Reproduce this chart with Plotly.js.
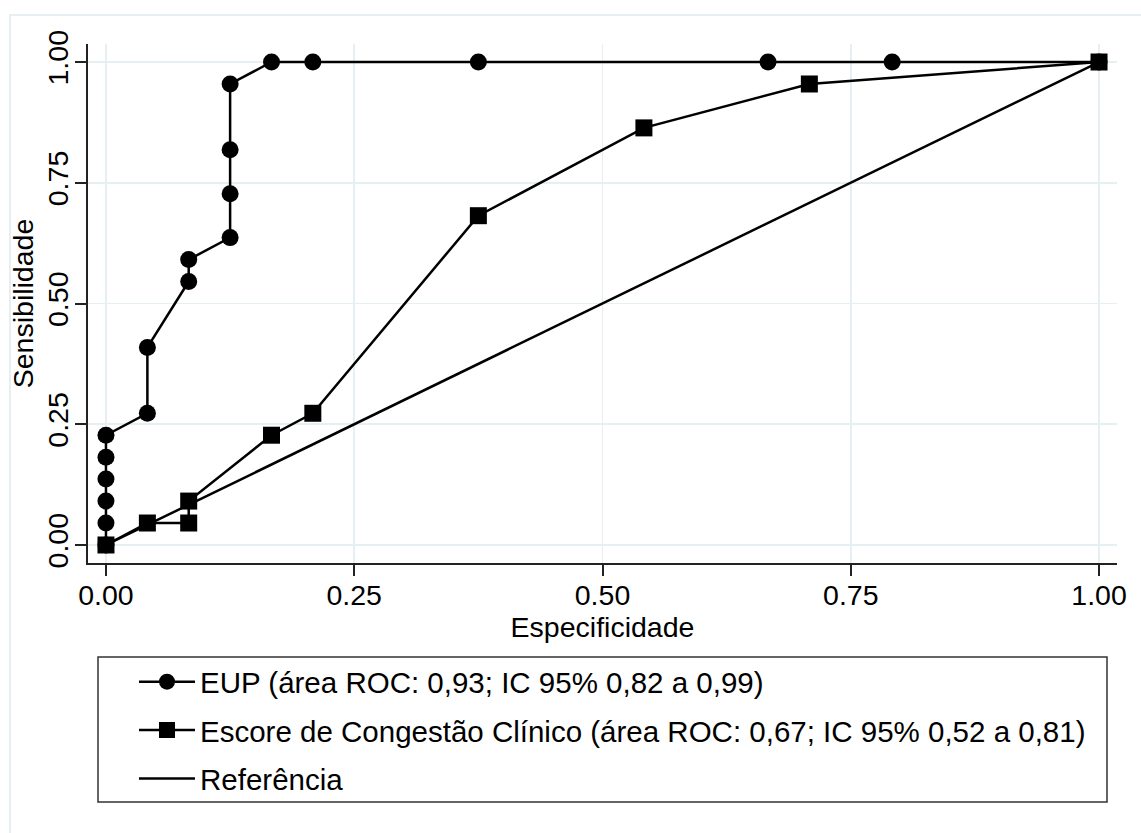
<!DOCTYPE html>
<html>
<head>
<meta charset="utf-8">
<script src="https://cdn.plot.ly/plotly-3.0.1.min.js"></script>
<style>html,body{margin:0;padding:0;background:#fff;}#chart{width:1141px;height:833px;}</style>
</head>
<body>
<div id="chart"></div>
<script>
// ROC curve data (x = 1 - especificidade, y = sensibilidade)
const eupX = [0, 0, 0, 0, 0, 0, 0.0417, 0.0417, 0.0833, 0.0833, 0.125, 0.125, 0.125, 0.125, 0.1667, 0.2083, 0.375, 0.6667, 0.7917, 1];
const eupY = [0, 0.0455, 0.0909, 0.1364, 0.1818, 0.2273, 0.2727, 0.4091, 0.5455, 0.5909, 0.6364, 0.7273, 0.8182, 0.9545, 1, 1, 1, 1, 1, 1];
const scoreX = [0, 0.0417, 0.0833, 0.0833, 0.1667, 0.2083, 0.375, 0.5417, 0.7083, 1];
const scoreY = [0, 0.0455, 0.0455, 0.0909, 0.2273, 0.2727, 0.6818, 0.8636, 0.9545, 1];
const refX = [0, 1];
const refY = [0, 1];
const tickVals = [0, 0.25, 0.5, 0.75, 1];
const tickText = ['0.00', '0.25', '0.50', '0.75', '1.00'];
const names = [
  'EUP (área ROC: 0,93; IC 95% 0,82 a 0,99)',
  'Escore de Congestão Clínico (área ROC: 0,67; IC 95% 0,52 a 0,81)',
  'Referência'
];

const FONT = 'Liberation Sans, Arial, Helvetica, sans-serif';
const W = 1141, H = 833;
const L = 88, R = 24, T = 44, B = 270;
const pw = W - L - R, ph = H - T - B;
const px = v => (v - L) / pw;
const py = v => (H - B - v) / ph;

const traces = [
  {x: eupX, y: eupY, name: names[0], legendgroup: 'a', mode: 'lines+markers', type: 'scatter',
   line: {color: '#000', width: 2.5}, marker: {symbol: 'circle', size: 17, color: '#000'}, cliponaxis: false},
  {x: scoreX, y: scoreY, name: names[1], legendgroup: 'b', mode: 'lines+markers', type: 'scatter',
   line: {color: '#000', width: 2.5}, marker: {symbol: 'square', size: 17, color: '#000'}, cliponaxis: false},
  {x: refX, y: refY, name: names[2], legendgroup: 'c', mode: 'lines', type: 'scatter',
   line: {color: '#000', width: 2.5}}
];

const axisCommon = {
  tickvals: tickVals, ticktext: tickText, ticks: 'outside', ticklen: 11, tickwidth: 2,
  tickcolor: '#222', showline: true, linecolor: '#222', linewidth: 2,
  showgrid: true, gridcolor: '#e6eff2', gridwidth: 1.5, zeroline: false,
  tickfont: {family: FONT, size: 28.5, color: '#000'}, automargin: false, fixedrange: true
};

const layout = {
  width: W, height: H,
  margin: {l: L, r: R, t: T, b: B, pad: 0},
  paper_bgcolor: '#fff', plot_bgcolor: '#fff',
  showlegend: true,
  xaxis: Object.assign({}, axisCommon, {
    range: [-0.0181, 1.0181], ticklabelstandoff: -5,
    title: {text: 'Especificidade', font: {family: FONT, size: 28.5, color: '#000'}, standoff: 0}
  }),
  yaxis: Object.assign({}, axisCommon, {
    range: [-0.0373, 1.0373], tickangle: -90, ticklabelstandoff: -4,
    title: {text: 'Sensibilidade', font: {family: FONT, size: 28.5, color: '#000'}, standoff: 0}
  }),
  legend: {
    x: px(134), y: py(656), xanchor: 'left', yanchor: 'top',
    traceorder: 'grouped', tracegroupgap: 7, itemwidth: 56,
    font: {family: FONT, size: 29.5, color: '#000'},
    bgcolor: 'rgba(0,0,0,0)', borderwidth: 0, itemclick: false, itemdoubleclick: false
  },
  shapes: [
    {type: 'rect', xref: 'paper', yref: 'paper', x0: px(10), x1: px(1160), y0: py(15), y1: py(860),
     line: {color: '#e6eff2', width: 2}, layer: 'below'},
    {type: 'rect', xref: 'paper', yref: 'paper', x0: px(98), x1: px(1107), y0: py(657), y1: py(802),
     line: {color: '#333', width: 1.5}}
  ]
};

Plotly.newPlot('chart', traces, layout, {displayModeBar: false, staticPlot: true});
</script>
</body>
</html>
